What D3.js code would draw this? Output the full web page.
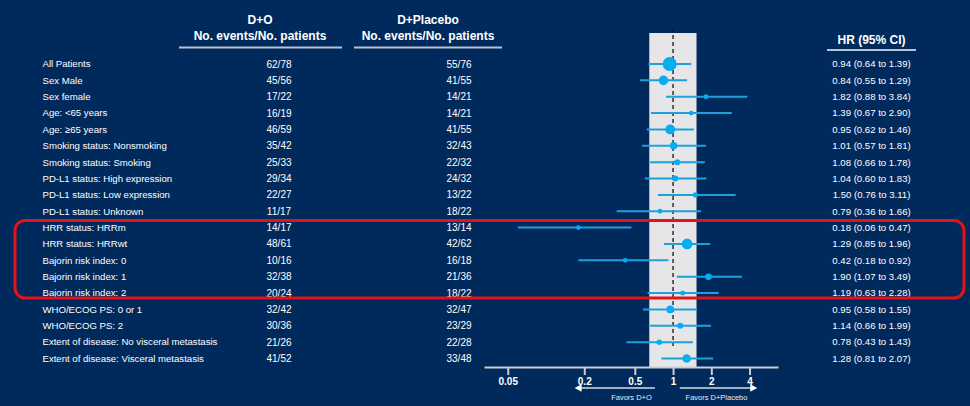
<!DOCTYPE html>
<html><head><meta charset="utf-8">
<script src="https://cdn.jsdelivr.net/npm/d3@7/dist/d3.min.js"></script>
<style>
html,body{margin:0;padding:0;background:#012a5c;}
svg{display:block;font-family:"Liberation Sans",Arial,sans-serif;}
</style></head><body>
<svg id="c" width="970" height="406"></svg>
<script>
const subgroups = ["All Patients","Sex Male","Sex female","Age: <65 years","Age: \u226565 years",
 "Smoking status: Nonsmoking","Smoking status: Smoking","PD-L1 status: High expression",
 "PD-L1 status: Low expression","PD-L1 status: Unknown","HRR status: HRRm","HRR status: HRRwt",
 "Bajorin risk index: 0","Bajorin risk index: 1","Bajorin risk index: 2","WHO/ECOG PS: 0 or 1",
 "WHO/ECOG PS: 2","Extent of disease: No visceral metastasis","Extent of disease: Visceral metastasis"];
const doEvents   = [62,45,17,16,46,35,25,29,22,11,14,48,10,32,20,32,30,21,41];
const doPatients = [78,56,22,19,59,42,33,34,27,17,17,61,16,38,24,42,36,26,52];
const plEvents   = [55,41,14,14,41,32,22,24,13,18,13,42,16,21,18,32,23,22,33];
const plPatients = [76,55,21,21,55,43,32,32,22,22,14,62,18,36,22,47,29,28,48];
const hr   = [0.94,0.84,1.82,1.39,0.95,1.01,1.08,1.04,1.50,0.79,0.18,1.29,0.42,1.90,1.19,0.95,1.14,0.78,1.28];
const ciLo = [0.64,0.55,0.88,0.67,0.62,0.57,0.66,0.60,0.76,0.36,0.06,0.85,0.18,1.07,0.63,0.58,0.66,0.43,0.81];
const ciHi = [1.39,1.29,3.84,2.90,1.46,1.81,1.78,1.83,3.11,1.66,0.47,1.96,0.92,3.49,2.28,1.55,1.99,1.43,2.07];
const axisTicks = [0.05,0.2,0.5,1,2,4];
const tickLabels = ["0.05","0.2","0.5","1","2","4"];
const shadeRange = [0.65,1.53];
const highlighted = ["HRR status: HRRm","Bajorin risk index: 2"];

const svg = d3.select("#c");
const W = 970, H = 406;
svg.append("rect").attr("width",W).attr("height",H).attr("fill","#012a5c");

const x = d3.scaleLog().domain([0.0325,6.7]).range([484,778]);
const y = d3.scalePoint().domain(subgroups).range([64,358.5]);
const fmt = d3.format(".2f");
const total = subgroups.map((d,i)=>doPatients[i]+plPatients[i]);
const rPow = d3.scalePow().exponent(1.5).domain([0,124]).range([0,4.7]).clamp(true);
const radius = n => 2.3 + rPow(n-30);

// shaded region
svg.append("rect")
  .attr("x",x(shadeRange[0])).attr("width",x(shadeRange[1])-x(shadeRange[0]))
  .attr("y",33).attr("height",367-33).attr("fill","#e6e6e8");

// reference line at 1
svg.append("line").attr("x1",x(1)).attr("x2",x(1)).attr("y1",28).attr("y2",346)
  .attr("stroke","#111").attr("stroke-width",1.3).attr("stroke-dasharray","4,3");

// headers
const hdr = svg.append("g").attr("fill","#fff").attr("font-weight","bold").attr("font-size",12).attr("text-anchor","middle");
hdr.append("text").attr("x",260).attr("y",24).text("D+O");
hdr.append("text").attr("x",260).attr("y",39.5).text("No. events/No. patients");
hdr.append("text").attr("x",428).attr("y",24).text("D+Placebo");
hdr.append("text").attr("x",428).attr("y",39.5).text("No. events/No. patients");
hdr.append("text").attr("x",871.5).attr("y",44).text("HR (95% CI)");
const ul = svg.append("g").attr("stroke","#b9c2d0").attr("stroke-width",2);
ul.append("line").attr("x1",179).attr("x2",342).attr("y1",47.5).attr("y2",47.5);
ul.append("line").attr("x1",354).attr("x2",502).attr("y1",47.5).attr("y2",47.5);
ul.append("line").attr("x1",827).attr("x2",916).attr("y1",50).attr("y2",50);

// rows text
const rows = svg.append("g").attr("fill","#fff").attr("font-size",9.6);
rows.selectAll("text.lab").data(subgroups).join("text").attr("class","lab")
  .attr("x",42.5).attr("y",d=>y(d)).attr("dy","0.35em").text(d=>d);
rows.selectAll("text.c1").data(subgroups).join("text").attr("class","c1")
  .attr("x",279).attr("y",d=>y(d)).attr("dy","0.35em").attr("text-anchor","middle").attr("font-size",10)
  .text((d,i)=>doEvents[i]+"/"+doPatients[i]);
rows.selectAll("text.c2").data(subgroups).join("text").attr("class","c2")
  .attr("x",459).attr("y",d=>y(d)).attr("dy","0.35em").attr("text-anchor","middle").attr("font-size",10)
  .text((d,i)=>plEvents[i]+"/"+plPatients[i]);
rows.selectAll("text.hr").data(subgroups).join("text").attr("class","hr")
  .attr("x",871.5).attr("y",d=>y(d)).attr("dy","0.35em").attr("text-anchor","middle")
  .text((d,i)=>fmt(hr[i])+" ("+fmt(ciLo[i])+" to "+fmt(ciHi[i])+")");

// CI lines and points
const plot = svg.append("g");
plot.selectAll("line.ci").data(subgroups).join("line").attr("class","ci")
  .attr("x1",(d,i)=>x(ciLo[i])).attr("x2",(d,i)=>x(ciHi[i]))
  .attr("y1",d=>y(d)).attr("y2",d=>y(d))
  .attr("stroke","#1f9fdc").attr("stroke-width",2);
plot.selectAll("circle").data(subgroups).join("circle")
  .attr("cx",(d,i)=>x(hr[i])).attr("cy",d=>y(d)).attr("r",(d,i)=>radius(total[i]))
  .attr("fill","#05aef0");

// axis
const ax = svg.append("g").attr("transform","translate(0,367)")
  .call(d3.axisBottom(x).tickValues(axisTicks).tickSize(8).tickSizeOuter(0).tickPadding(3)
    .tickFormat((d,i)=>tickLabels[i]));
ax.select(".domain").attr("stroke","#c9ced6").attr("stroke-width",2);
ax.selectAll(".tick line").attr("stroke","#c9ced6").attr("stroke-width",2);
ax.selectAll(".tick text").attr("fill","#fff").attr("font-size",10).attr("font-weight","bold")
  .attr("font-family","'Liberation Sans',Arial,sans-serif");

// favour arrows
const ag = svg.append("g");
const ay = 388;
ag.append("line").attr("x1",x(0.175)).attr("x2",x(0.72)).attr("y1",ay).attr("y2",ay).attr("stroke","#d7dbe2").attr("stroke-width",1.3);
ag.append("path").attr("d",`M${x(0.168)},${ay} l7,-3.8 l0,7.6 z`).attr("fill","#fff");
ag.append("line").attr("x1",x(1.13)).attr("x2",x(4.45)).attr("y1",ay).attr("y2",ay).attr("stroke","#d7dbe2").attr("stroke-width",1.3);
ag.append("path").attr("d",`M${x(4.6)},${ay} l-7,-3.8 l0,7.6 z`).attr("fill","#fff");
ag.append("text").attr("x",631.5).attr("y",399.5).attr("text-anchor","middle").attr("font-size",7.5).attr("fill","#e8ebf0").text("Favors D+O");
ag.append("text").attr("x",716.5).attr("y",399.5).attr("text-anchor","middle").attr("font-size",7.5).attr("fill","#e8ebf0").text("Favors D+Placebo");

// highlight box
svg.append("rect").attr("x",15).attr("width",949)
  .attr("y",y(highlighted[0])-7).attr("height",y(highlighted[1])-y(highlighted[0])+12)
  .attr("rx",10).attr("fill","none").attr("stroke","#e3121b").attr("stroke-width",3);
</script></body></html>
